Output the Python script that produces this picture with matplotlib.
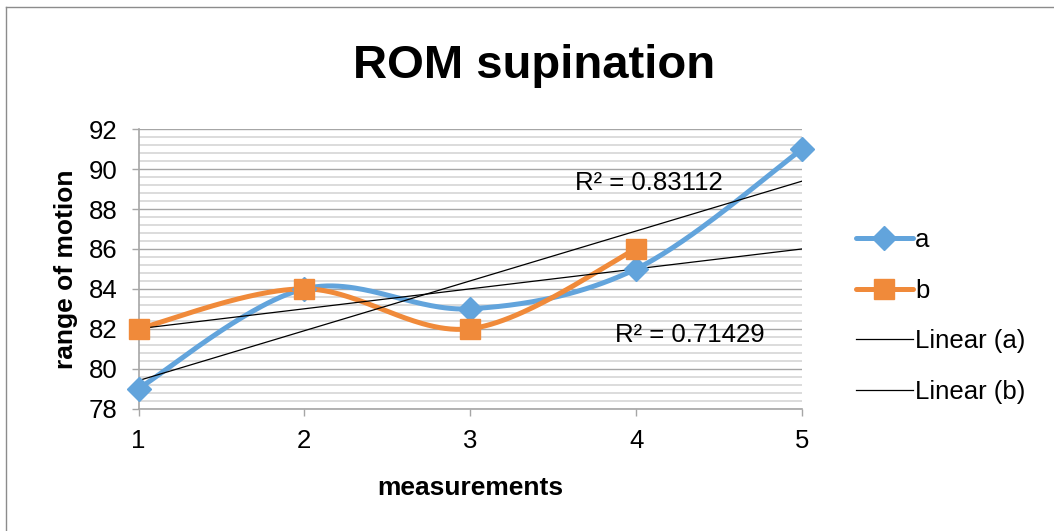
import numpy as np
import matplotlib
matplotlib.use("Agg")
import matplotlib.pyplot as plt
from matplotlib.ticker import MultipleLocator
from matplotlib.lines import Line2D

plt.rcParams['font.family'] = ['Liberation Sans', 'DejaVu Sans']

# ---- data ----
x_a = [1, 2, 3, 4, 5]
a_vals = [79, 84, 83, 85, 91]
x_b = [1, 2, 3, 4]
b_vals = [82, 84, 82, 86]
x_ticks = [1, 2, 3, 4, 5]
y_ticks = [78, 80, 82, 84, 86, 88, 90, 92]
r2_a_label = "R² = 0.83112"
r2_b_label = "R² = 0.71429"
title = "ROM supination"
xlabel = "measurements"
ylabel = "range of motion"

BLUE = '#62A4DC'
ORANGE = '#F08A3A'


def smooth(xs, ys, n=60):
    """Excel-like smoothed line: cubic Bezier with Catmull-Rom tangents."""
    P = np.column_stack([xs, ys]).astype(float)
    m = len(P)
    out = []
    for i in range(m - 1):
        p0 = P[i - 1] if i > 0 else P[i]
        p1 = P[i]
        p2 = P[i + 1]
        p3 = P[i + 2] if i + 2 < m else P[i + 1]
        c1 = p1 + (p2 - p0) / 6.0
        c2 = p2 - (p3 - p1) / 6.0
        t = np.linspace(0, 1, n)[:, None]
        seg = ((1 - t) ** 3) * p1 + 3 * ((1 - t) ** 2) * t * c1 + 3 * (1 - t) * t ** 2 * c2 + t ** 3 * p2
        out.append(seg if i == 0 else seg[1:])
    out = np.vstack(out)
    return out[:, 0], out[:, 1]


W, H = 1054, 531
fig = plt.figure(figsize=(W / 100, H / 100), dpi=100)
ax = fig.add_axes([138.5 / W, 1 - 408.5 / H, (802 - 138.5) / W, (408.5 - 129.3) / H])

ax.set_xlim(1, 5)
ax.set_ylim(78, 92)
ax.set_xticks(x_ticks)
ax.set_yticks(y_ticks)
ax.yaxis.set_minor_locator(MultipleLocator(0.4))
ax.grid(axis='y', which='major', color='#A6A6A6', linewidth=1.0, zorder=0)
ax.grid(axis='y', which='minor', color='#D9D9D9', linewidth=1.3, zorder=0)
ax.set_axisbelow(True)
for s in ['top', 'right']:
    ax.spines[s].set_visible(False)
for s in ['left', 'bottom']:
    ax.spines[s].set_color('#A6A6A6')
    ax.spines[s].set_linewidth(1.2)
ax.tick_params(axis='both', which='major', length=5, width=1.0, color='#A6A6A6',
               labelsize=18.5, pad=10)
ax.tick_params(axis='y', which='minor', length=0)

# trendlines
xt = np.array([1, 5], dtype=float)
ka, ba = np.polyfit(x_a, a_vals, 1)
kb, bb = np.polyfit(x_b, b_vals, 1)
ax.plot(xt, ka * xt + ba, color='black', linewidth=0.9, zorder=4)
ax.plot(xt, kb * xt + bb, color='black', linewidth=0.9, zorder=4)

# smoothed series
sx, sy = smooth(x_a, a_vals)
ax.plot(sx, sy, color=BLUE, linewidth=3.6, solid_capstyle='round', zorder=3, clip_on=False)
ax.plot(x_a, a_vals, linestyle='none', marker='D', markersize=12, color=BLUE, zorder=5, clip_on=False)
sx, sy = smooth(x_b, b_vals)
ax.plot(sx, sy, color=ORANGE, linewidth=3.6, solid_capstyle='round', zorder=3, clip_on=False)
ax.plot(x_b, b_vals, linestyle='none', marker='s', markersize=14, color=ORANGE, zorder=6, clip_on=False)

# R² labels
fig.text(649 / W, 1 - 183 / H, r2_a_label, fontsize=18.5, ha='center', va='center')
fig.text(690 / W, 1 - 335 / H, r2_b_label, fontsize=18.5, ha='center', va='center')

# titles
fig.text(534 / W, 1 - 66 / H, title, fontsize=34, fontweight='bold', ha='center', va='center')
ax.set_xlabel(xlabel, fontsize=19, fontweight='bold', labelpad=16)
ax.set_ylabel(ylabel, fontsize=19, fontweight='bold', labelpad=8)

# legend
handles = [
    Line2D([], [], color=BLUE, linewidth=3.6, marker='D', markersize=12, solid_capstyle='round'),
    Line2D([], [], color=ORANGE, linewidth=3.6, marker='s', markersize=14, solid_capstyle='round'),
    Line2D([], [], color='black', linewidth=0.9),
    Line2D([], [], color='black', linewidth=0.9),
]
labels = ['a', 'b', 'Linear (a)', 'Linear (b)']
fig.legend(handles, labels, loc='center left', bbox_to_anchor=(856 / W, 1 - 316 / H),
           frameon=False, fontsize=18.5, handlelength=2.2, handletextpad=0.1,
           labelspacing=1.04, borderaxespad=0, borderpad=0)

# outer border (top and left only visible)
fig.add_artist(Line2D([6 / W, 1], [1 - 7 / H, 1 - 7 / H], color='#8C8C8C', linewidth=1.0))
fig.add_artist(Line2D([6 / W, 6 / W], [0, 1 - 7 / H], color='#8C8C8C', linewidth=1.0))

fig.savefig('out.png', dpi=100)
